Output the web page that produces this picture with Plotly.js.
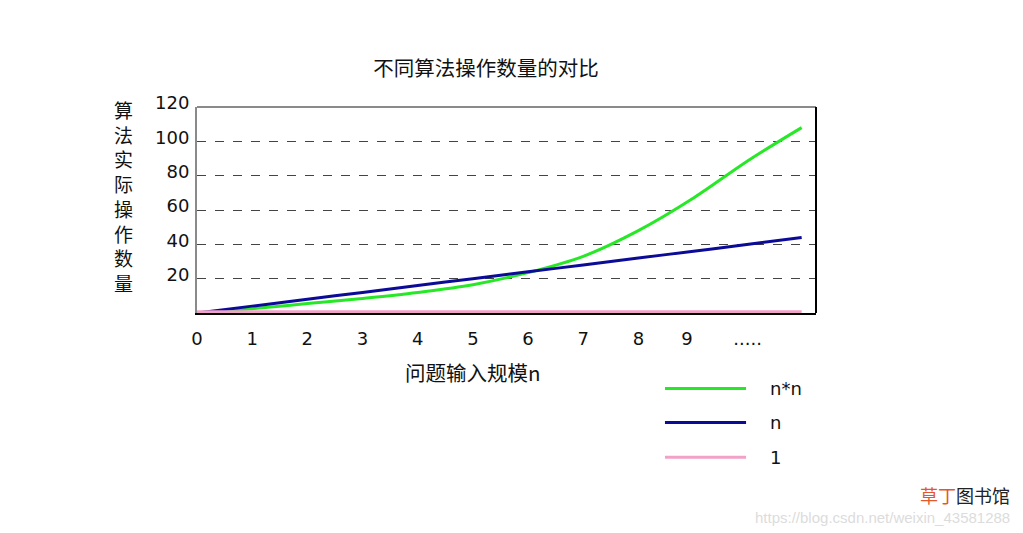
<!DOCTYPE html>
<html>
<head>
<meta charset="utf-8">
<script src="https://cdn.plot.ly/plotly-3.0.1.min.js"></script>
<style>
  html, body { margin: 0; padding: 0; background: #fff; }
  #chart { width: 1023px; height: 533px; }
</style>
</head>
<body>
<div id="chart"></div>
<script>
// problem size n (x positions, the last point is where the lines stop)
const sizeN = [0, 1, 2, 3, 4, 5, 6, 7, 8, 9, 10, 10.96];
// operation counts
const opsSquare = [0, 2.5, 5.5, 8.5, 12, 16.5, 23.5, 33, 48, 67, 89, 108];
const opsLinear = [0, 4, 8, 12, 16, 20, 24, 28, 32, 36, 40, 44];
const opsConst = [0.8, 0.8, 0.8, 0.8, 0.8, 0.8, 0.8, 0.8, 0.8, 0.8, 0.8, 0.8];

const seriesNames = ['n*n', 'n', '1'];
const seriesColors = ['#27e827', '#0b0b98', '#f2a2c8'];

// x tick labels (the "9" and "....." sit a little off the unit grid)
const xTickVals = [0, 1, 2, 3, 4, 5, 6, 7, 8, 8.88, 9.98];
const xTickText = ['0', '1', '2', '3', '4', '5', '6', '7', '8', '9', '.....'];
const yTickVals = [20, 40, 60, 80, 100, 120];

const FONT = 'DejaVu Sans, Noto Sans CJK SC, sans-serif';
const CJK = 'Noto Sans CJK SC, sans-serif';

const ys = [opsSquare, opsLinear, opsConst];
const data = ys.map((y, i) => ({
  x: sizeN,
  y: y,
  name: seriesNames[i],
  mode: 'lines',
  type: 'scatter',
  line: { color: seriesColors[i], width: 3, shape: 'spline', smoothing: 1 },
  showlegend: false,
  hoverinfo: 'skip',
}));

// plot area is 619 x 206 px, paper coords below are relative to it
const legendY = [-0.366, -0.532, -0.7];
const shapes = [
  // top and right frame lines
  { type: 'line', xref: 'paper', yref: 'paper', x0: 0, x1: 1, y0: 1, y1: 1,
    line: { color: '#8a8a8a', width: 2 } },
  { type: 'line', xref: 'paper', yref: 'paper', x0: 1, x1: 1, y0: 0, y1: 1,
    line: { color: '#000', width: 2 } },
];
const annotations = [
  { xref: 'paper', yref: 'paper', x: -0.1195, y: 0.566, xanchor: 'center', yanchor: 'middle',
    showarrow: false, align: 'center',
    text: '算<br>法<br>实<br>际<br>操<br>作<br>数<br>量',
    font: { family: CJK, size: 19, color: '#111' } },
  { xref: 'paper', yref: 'paper', x: 0.446, y: -0.286, xanchor: 'center', yanchor: 'middle',
    showarrow: false,
    text: '问题输入规模n',
    font: { family: CJK, size: 20.5, color: '#111' } },
  { xref: 'paper', yref: 'paper', x: 1.317, y: -0.883, xanchor: 'right', yanchor: 'middle',
    showarrow: false,
    text: '<span style="color:#e4572a">草丁</span>图书馆',
    font: { family: CJK, size: 18, color: '#222' } },
  { xref: 'paper', yref: 'paper', x: 1.317, y: -0.995, xanchor: 'right', yanchor: 'middle',
    showarrow: false,
    text: 'https://blog.csdn.net/weixin_43581288',
    font: { family: 'Liberation Sans, Arial, sans-serif', size: 15, color: '#dcdcdc' } },
];
seriesNames.forEach((name, i) => {
  shapes.push({
    type: 'line', xref: 'paper', yref: 'paper',
    x0: 0.756, x1: 0.887, y0: legendY[i], y1: legendY[i],
    line: { color: seriesColors[i], width: 3 },
  });
  annotations.push({
    xref: 'paper', yref: 'paper', x: 0.922, y: legendY[i],
    xanchor: 'left', yanchor: 'middle', showarrow: false,
    text: name, font: { family: FONT, size: 18, color: '#111' },
  });
});

const layout = {
  width: 1023,
  height: 533,
  paper_bgcolor: '#fff',
  plot_bgcolor: '#fff',
  margin: { l: 197, r: 207, t: 107, b: 220 },
  font: { family: FONT, size: 18, color: '#111' },
  title: {
    text: '不同算法操作数量的对比',
    font: { family: CJK, size: 20.5, color: '#111' },
    x: 486 / 1023, xanchor: 'center',
    y: 1 - 69 / 533, yanchor: 'middle',
  },
  xaxis: {
    range: [0, 11.22],
    tickvals: xTickVals,
    ticktext: xTickText,
    ticks: '',
    showgrid: false,
    zeroline: false,
    showline: true,
    linecolor: '#000',
    linewidth: 2,
    layer: 'below traces',
    ticklabelstandoff: 8,
    tickfont: { family: FONT, size: 18, color: '#111' },
    fixedrange: true,
  },
  yaxis: {
    range: [0, 120],
    tickvals: yTickVals,
    ticks: '',
    showgrid: true,
    gridcolor: '#444',
    griddash: 'dash',
    gridwidth: 1,
    zeroline: false,
    showline: true,
    linecolor: '#8a8a8a',
    linewidth: 2,
    layer: 'below traces',
    ticklabelstandoff: 2,
    ticklabelshift: -4,
    tickfont: { family: FONT, size: 18, color: '#111' },
    fixedrange: true,
  },
  shapes: shapes,
  annotations: annotations,
};

Plotly.newPlot('chart', data, layout, { displayModeBar: false, staticPlot: true });
</script>
</body>
</html>
